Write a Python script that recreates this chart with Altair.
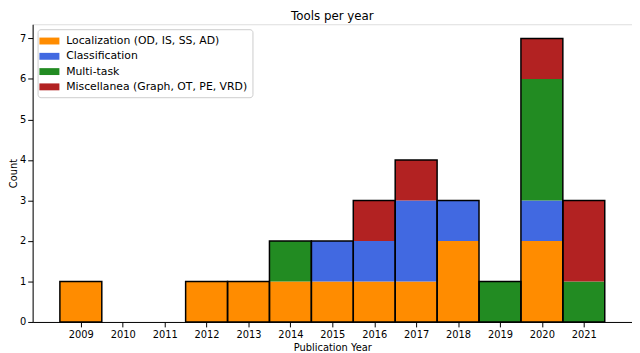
import altair as alt
import pandas as pd

years = list(range(2009, 2022))
categories = ["Localization (OD, IS, SS, AD)", "Classification", "Multi-task",
              "Miscellanea (Graph, OT, PE, VRD)"]
localization = [1, 0, 0, 1, 1, 1, 1, 1, 1, 2, 0, 2, 0]
classification = [0, 0, 0, 0, 0, 0, 1, 1, 2, 1, 0, 1, 0]
multitask = [0, 0, 0, 0, 0, 1, 0, 0, 0, 0, 1, 3, 1]
miscellanea = [0, 0, 0, 0, 0, 0, 0, 1, 1, 0, 0, 1, 2]
colors = ["#FF8C00", "#4169E1", "#228B22", "#B22222"]

series = [localization, classification, multitask, miscellanea]
rows = []
for ci, (cat, vals) in enumerate(zip(categories, series)):
    for y, v in zip(years, vals):
        rows.append({"year": y, "category": cat, "order": ci, "count": v,
                     "x0": y - 0.5, "x1": y + 0.5})
df = pd.DataFrame(rows)

totals = pd.DataFrame({"year": years,
                       "total": [sum(s[i] for s in series) for i in range(len(years))]})
totals["x0"] = totals["year"] - 0.5
totals["x1"] = totals["year"] + 0.5
totals = totals[totals["total"] > 0]

xscale = alt.Scale(domain=[2007.85, 2022.15], nice=False, zero=False)
yscale = alt.Scale(domain=[0, 7.35], nice=False)

xaxis = alt.Axis(values=years, format="d", title="Publication Year", grid=False,
                 labelFontSize=10, titleFontSize=10, tickColor="black",
                 domainColor="black", labelColor="black", titleColor="black",
                 titleFontWeight="normal", labelFlush=False, titlePadding=3,
                 labelPadding=3)
yaxis = alt.Axis(values=list(range(0, 8)), title="Count", grid=False,
                 labelFontSize=10, titleFontSize=10, tickColor="black",
                 domainColor="black", labelColor="black", titleColor="black",
                 titleFontWeight="normal", titlePadding=1, labelPadding=2)

bars = alt.Chart(df).transform_filter(alt.datum.count > 0).transform_stack(
    stack="count", as_=["y0", "y1"], groupby=["year"], sort=[alt.SortField("order")]
).mark_rect(strokeWidth=0).encode(
    x=alt.X("x0:Q", scale=xscale, axis=xaxis),
    x2="x1:Q",
    y=alt.Y("y0:Q", scale=yscale, axis=yaxis),
    y2="y1:Q",
    color=alt.Color("category:N", sort=categories,
                    scale=alt.Scale(domain=categories, range=colors),
                    legend=alt.Legend(title=None, orient="top-left", offset=5,
                                      fillColor="white", strokeColor="#cccccc",
                                      padding=5, cornerRadius=3, labelFontSize=11,
                                      labelColor="black", rowPadding=3.5,
                                      labelLimit=400,
                                      symbolType="M-1.45,-0.5H1.45V0.5H-1.45Z",
                                      symbolSize=196, symbolStrokeWidth=0,
                                      labelOffset=10)),
)

outline = alt.Chart(totals).mark_rect(fillOpacity=0, stroke="black", strokeWidth=1.5).encode(
    x=alt.X("x0:Q", scale=xscale),
    x2="x1:Q",
    y=alt.Y("total:Q", scale=yscale),
    y2=alt.datum(0),
)

chart = alt.layer(bars, outline).properties(
    width=608, height=302, padding=0,
    title=alt.TitleParams("Tools per year", fontSize=12, fontWeight="normal",
                          color="black", offset=1),
).configure_view(stroke="black", strokeWidth=1).configure(
    font="DejaVu Sans"
)

chart.save("out.html", embed_options={"renderer": "svg", "actions": False})
